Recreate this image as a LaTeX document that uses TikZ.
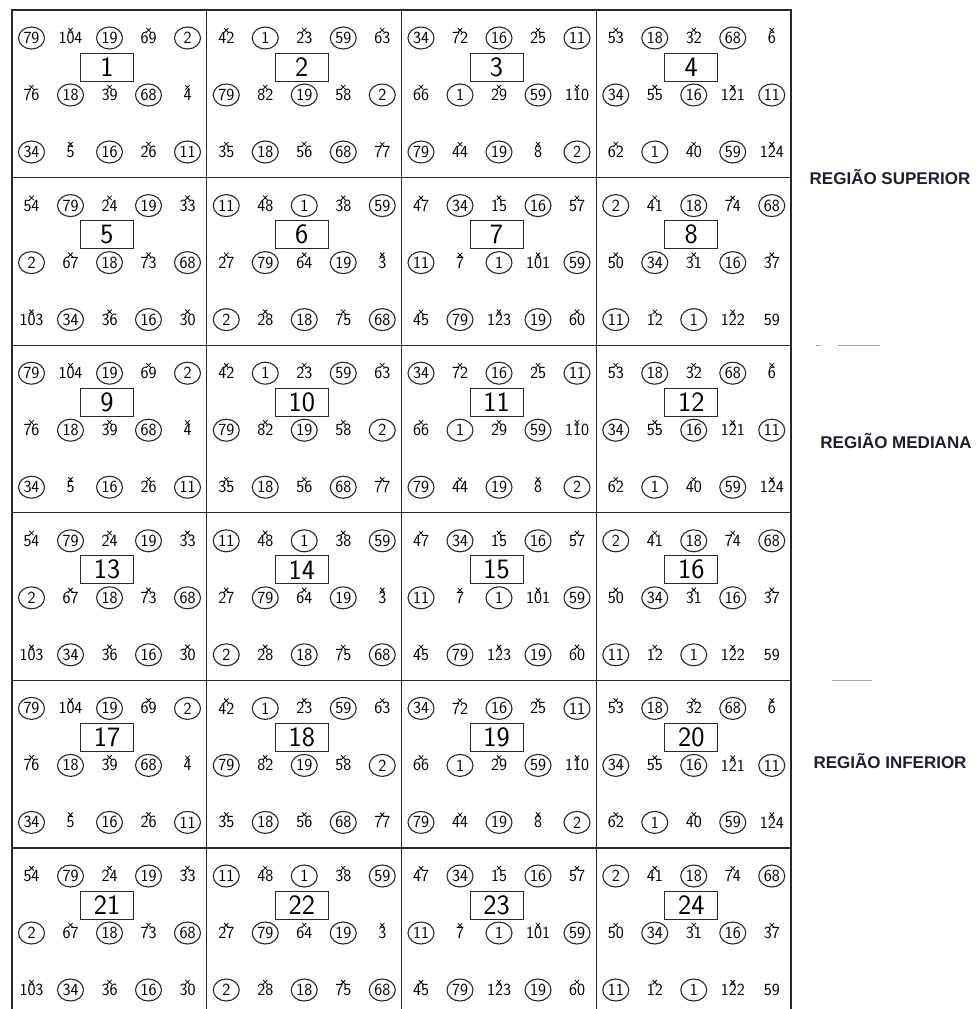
\documentclass[tikz,border=0pt]{standalone}
\usepackage{fontspec}
\newfontfamily\labfont{Liberation Sans}
\usetikzlibrary{shapes.geometric}
\definecolor{labcol}{RGB}{30,30,50}
\definecolor{gridcol}{RGB}{40,40,40}
\expandafter\def\csname bd1\endcsname{{c/79,x/104,c/19,x/69,c/2},{x/76,c/18,x/39,c/68,x/4},{c/34,x/5,c/16,x/26,c/11}}
\expandafter\def\csname bd2\endcsname{{x/42,c/1,x/23,c/59,x/63},{c/79,x/82,c/19,x/58,c/2},{x/35,c/18,x/56,c/68,x/77}}
\expandafter\def\csname bd3\endcsname{{c/34,x/72,c/16,x/25,c/11},{x/66,c/1,x/29,c/59,x/110},{c/79,x/44,c/19,x/8,c/2}}
\expandafter\def\csname bd4\endcsname{{x/53,c/18,x/32,c/68,x/6},{c/34,x/55,c/16,x/121,c/11},{x/62,c/1,x/40,c/59,x/124}}
\expandafter\def\csname bd5\endcsname{{x/54,c/79,x/24,c/19,x/33},{c/2,x/67,c/18,x/73,c/68},{x/103,c/34,x/36,c/16,x/30}}
\expandafter\def\csname bd6\endcsname{{c/11,x/48,c/1,x/38,c/59},{x/27,c/79,x/64,c/19,x/3},{c/2,x/28,c/18,x/75,c/68}}
\expandafter\def\csname bd7\endcsname{{x/47,c/34,x/15,c/16,x/57},{c/11,x/7,c/1,x/101,c/59},{x/45,c/79,x/123,c/19,x/60}}
\expandafter\def\csname bd8\endcsname{{c/2,x/41,c/18,x/74,c/68},{x/50,c/34,x/31,c/16,x/37},{c/11,x/12,c/1,x/122,p/59}}
\tikzset{
  itfont/.style={font=\sffamily\fontsize{17}{17}\selectfont, text=black},
  itc/.style={itfont, draw=gridcol, line width=1.1pt, ellipse, minimum width=26pt, minimum height=22pt, inner sep=0pt},
  itx/.style={itfont, inner sep=0pt},
  itp/.style={itfont, inner sep=0pt},
  xmk/.style={draw=black, line width=0.8pt},
  bnum/.style={draw=gridcol, line width=1pt, minimum width=53pt, minimum height=28pt, inner sep=0pt, font=\sffamily\fontsize{28}{28}\selectfont},
  gridln/.style={draw=gridcol, line width=1.3pt},
  outerln/.style={draw=gridcol, line width=1.8pt},
  reg/.style={font=\labfont\bfseries\fontsize{17}{17}\selectfont, text=labcol, inner sep=0pt},
  dashln/.style={draw=gray!70, line width=1pt}
}
\begin{document}
\begin{tikzpicture}[x=1pt, y=-1pt]
\useasboundingbox (0,0) rectangle (976,1009);
\clip (0,0) rectangle (976,1009);
% grid
\foreach \k in {1,2,3,4,5} {
  \draw[gridln] (12, {10+167.6*\k}) -- (791, {10+167.6*\k});
}
\foreach \k in {1,2,3} {
  \draw[gridln] ({12+194.75*\k}, 10) -- ({12+194.75*\k}, 1009);
}
\draw[outerln] (12,1012) -- (12,10) -- (791,10) -- (791,1012);
% blocks
\foreach \rep in {0,1,2} {
  \foreach \p in {1,...,8} {
    \pgfmathtruncatemacro\bn{\p+8*\rep}
    \pgfmathtruncatemacro\br{div(\p-1,4)+2*\rep}
    \pgfmathtruncatemacro\bc{mod(\p-1,4)}
    \pgfmathsetmacro\bx{12+194.75*\bc}
    \pgfmathsetmacro\by{10+167.6*\br}
    \expandafter\let\expandafter\data\csname bd\p\endcsname
    \node[bnum] (n\bn) at ({\bx+95}, {\by+57}) {\bn};
    \foreach \row [count=\r] in \data {
      \foreach \t/\v [count=\c] in \row {
        \node[it\t] (b\bn-\r-\c) at ({\bx+19.5+39*(\c-1)}, {\by+28+57*(\r-1)}) {\v};
        \if x\t
          \draw[xmk] ([shift={(-2.2pt,4pt)}]b\bn-\r-\c.north) -- ([shift={(2.2pt,-0.4pt)}]b\bn-\r-\c.north)
                     ([shift={(-2.2pt,-0.4pt)}]b\bn-\r-\c.north) -- ([shift={(2.2pt,4pt)}]b\bn-\r-\c.north);
        \fi
      }
    }
  }
}
% region labels
\node[reg] (rsup) at (890,177) {REGIÃO SUPERIOR};
\node[reg] (rmed) at (896,441) {REGIÃO MEDIANA};
\node[reg] (rinf) at (890,761) {REGIÃO INFERIOR};
% small separator strokes
\coordinate (d1a) at (816,345); \coordinate (d1b) at (821,345);
\coordinate (d2a) at (838,345); \coordinate (d2b) at (880,345);
\coordinate (d3a) at (832,680); \coordinate (d3b) at (872,680);
\draw[dashln] (d1a) -- (d1b);
\draw[dashln] (d2a) -- (d2b);
\draw[dashln] (d3a) -- (d3b);
\end{tikzpicture}
\end{document}
